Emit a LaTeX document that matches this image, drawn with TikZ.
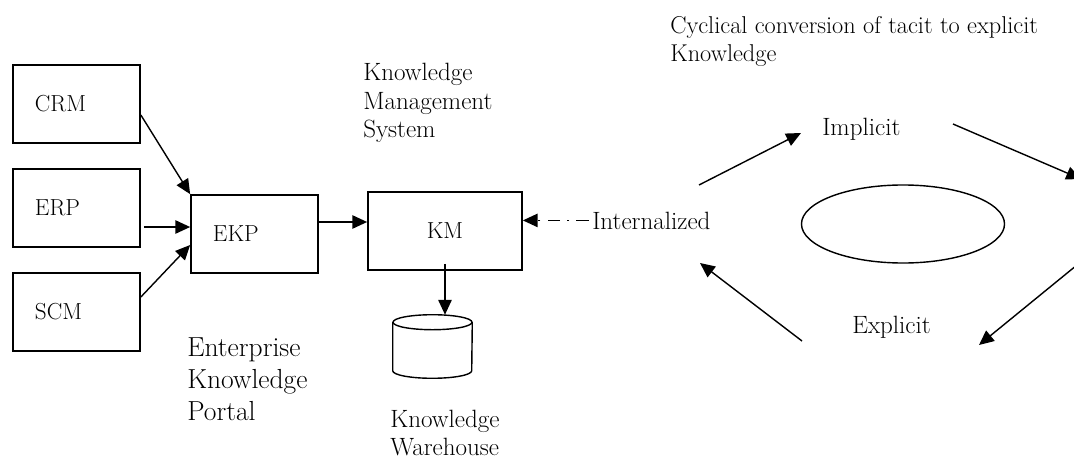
\documentclass[tikz,border=0pt]{standalone}
\usepackage{tikz}
\usetikzlibrary{arrows.meta, calc, positioning, shapes.geometric}

\begin{document}
\begin{tikzpicture}[x=0.025cm, y=-0.025cm,
  every node/.style={font=\fontsize{17.8}{20.3}\selectfont, inner sep=0pt},
  box/.style={draw, line width=1.2pt, minimum height=1.95cm, font=\fontsize{16.5}{20}\selectfont},
  srcbox/.style={box, text width=2.075cm, inner xsep=0.55cm, align=left},
  arr/.style={-{Triangle[length=10.5pt, width=9.5pt]}, line width=1pt},
  dasharr/.style={arr, dash pattern=on 9pt off 5pt on 1.5pt off 5pt},
  lbl/.style={anchor=north west, align=left}]
\useasboundingbox (0,0) rectangle (1074,460);

% source systems
\node[srcbox] (crm) at (76.5,104) {CRM};
\node[srcbox] (erp) at (76.5,208) {ERP};
\node[srcbox] (scm) at (76.5,312) {SCM};

% portal and KM
\node[srcbox] (ekp) at (254.5,234) {EKP};
\node[box, minimum width=3.85cm] (km) at (445,231) {KM};

% warehouse (cylinder drawn on an empty node)
\node[minimum width=1.975cm, minimum height=1.575cm] (kw) at (432.5,346.5) {};
\draw[line width=1pt] ([yshift=-0.1875cm]kw.north) ellipse [x radius=39.5, y radius=7.5];
\draw[line width=1pt] ([yshift=-0.1875cm]kw.north west) -- ([yshift=0.1875cm]kw.south west)
  arc[start angle=180, end angle=0, x radius=39.5, y radius=7.5] -- ([yshift=-0.1875cm]kw.north east);

\draw[arr] ([yshift=-0.275cm]crm.east) -- (ekp.north west);
\draw[arr] ([xshift=0.075cm, yshift=-0.475cm]erp.east) -- ([yshift=-0.475cm]erp.east -| ekp.west);
\draw[arr] ([yshift=0.375cm]scm.east) -- ([yshift=-0.275cm]ekp.west);
\draw[arr] ([yshift=0.3cm]ekp.east) -- ([yshift=0.3cm]ekp.east -| km.west);
\draw[arr] ([yshift=0.175cm]km.south) -- (km.south |- kw.north);

% labels
\node[lbl] (kms) at (363,63) {Knowledge\\Management\\System};
\node[lbl, font=\fontsize{19.6}{22.8}\selectfont] (ekplbl) at (187,337) {Enterprise\\Knowledge\\Portal};
\node[lbl, font=\fontsize{17.8}{20}\selectfont] (kwlbl) at (390,410) {Knowledge\\Warehouse};
\node[lbl, font=\fontsize{17.3}{19.5}\selectfont] (title) at (670,16.5) {Cyclical conversion of tacit to explicit\\Knowledge};

% tacit / explicit cycle
\node[anchor=base west] (intl) at (592,229) {Internalized};
\node[anchor=base west] (impl) at (822,135) {Implicit};
\node[anchor=base west] (expl) at (852,333) {Explicit};
\node[draw, ellipse, line width=1pt, minimum width=5.075cm, minimum height=1.95cm] (core) at (903,224) {};

\draw[dasharr] ([xshift=-0.075cm]intl.west) -- (intl.west -| km.east);

\coordinate (a1s) at (699,185);  \coordinate (a1e) at (801,133);
\coordinate (a2s) at (953,124);  \coordinate (a2e) at (1081,179);
\coordinate (a3s) at (1077,265); \coordinate (a3e) at (979,345);
\coordinate (a4s) at (802,341);  \coordinate (a4e) at (700,263);
\draw[arr] (a1s) -- (a1e);
\draw[arr] (a2s) -- (a2e);
\draw[arr] (a3s) -- (a3e);
\draw[arr] (a4s) -- (a4e);
\end{tikzpicture}
\end{document}
